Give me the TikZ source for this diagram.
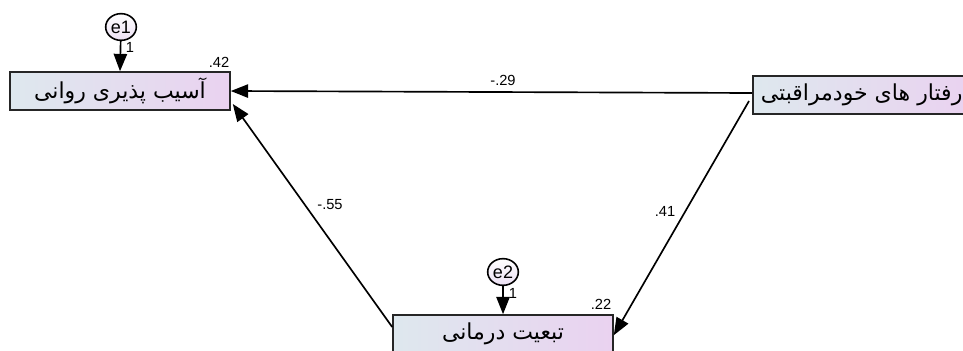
\documentclass[tikz,border=0pt]{standalone}
\usepackage{fontspec}
\setmainfont{Liberation Sans}
\newfontfamily\arabicfont[Script=Arabic]{DejaVu Sans}
\TeXXeTstate=1
\usetikzlibrary{shapes.geometric,arrows.meta,calc}
\definecolor{boxleft}{RGB}{222,232,238}
\definecolor{boxright}{RGB}{234,210,240}
\definecolor{errfill}{RGB}{236,224,244}
\tikzset{
  varbox/.style={draw=black!85, line width=1.2pt, left color=boxleft, right color=boxright,
    minimum width=165pt, minimum height=28.5pt, inner sep=0pt, font=\arabicfont\fontsize{16.5}{18}\selectfont},
  errnode/.style={ellipse, draw=black, line width=1.2pt, top color=white, bottom color=errfill,
    minimum width=23pt, minimum height=20pt, inner sep=0pt, font=\fontsize{13.5}{15}\selectfont},
  arr/.style={line width=1.25pt, -{Triangle[length=13pt,width=10pt]}},
  lbl/.style={font=\fontsize{11}{12}\selectfont, inner sep=0pt}
}
\begin{document}
\begin{tikzpicture}[x=0.75pt,y=-0.75pt]
\useasboundingbox (0,0) rectangle (963,350);
\clip (0,0) rectangle (963,350);
\node[varbox] (A) at (120,91) {\beginR آسیب پذیری روانی\endR};
\node[varbox, anchor=west, minimum width=0pt, inner xsep=6pt] (B) at (752,95) {\beginR رفتار های خودمراقبتی\endR};
\node[varbox] (C) at (503,334) {\beginR تبعیت درمانی\endR};
\node[errnode] (e1) at (121,27) {e1};
\node[errnode] (e2) at (503,272) {e2};
\draw[arr] (e1) -- (A.north);
\draw[arr] (e2) -- (C.north);
\draw[arr] ($(B.west)+(0,-2)$) -- (A.east);
\draw[arr] ($(B.west)+(-3,6)$) -- ($(C.north east)+(0,21)$);
\draw[arr] ($(C.west)+(0,-7)$) -- ($(A.east)+(2,13)$);
\node[lbl] (l42) at (219,62) {.42};
\node[lbl] (l22) at (601,304) {.22};
\node[lbl] (l1a) at (130,47) {1};
\node[lbl] (l1b) at (513,293) {1};
\node[lbl] (l29) at (503,80) {-.29};
\node[lbl] (l55) at (330,205) {-.55};
\node[lbl] (l41) at (665,211) {.41};
\end{tikzpicture}
\end{document}
